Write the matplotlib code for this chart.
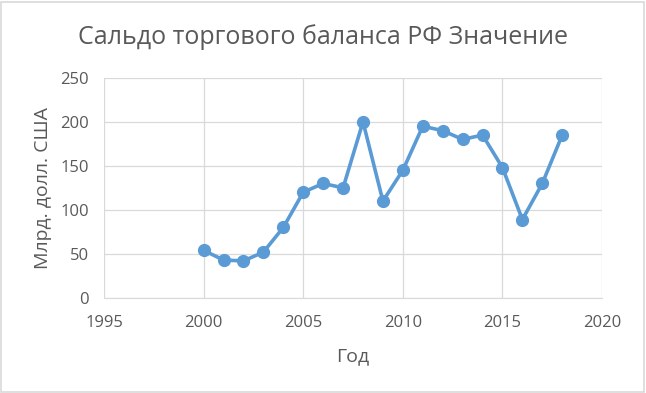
import matplotlib
matplotlib.use("Agg")
import matplotlib.pyplot as plt
from matplotlib.patches import Rectangle

years = [2000, 2001, 2002, 2003, 2004, 2005, 2006, 2007, 2008, 2009,
         2010, 2011, 2012, 2013, 2014, 2015, 2016, 2017, 2018]
balance = [54, 43, 42, 52, 80, 120, 130, 125, 200, 110,
           145, 195, 190, 180, 185, 148, 89, 130, 185]
x_ticks = [1995, 2000, 2005, 2010, 2015, 2020]
y_ticks = [0, 50, 100, 150, 200, 250]

TEXT = "#595959"
LINE = "#5b9bd5"
GRID = "#d9d9d9"

plt.rcParams["font.family"] = ["Open Sans", "DejaVu Sans"]

fig = plt.figure(figsize=(6.46, 3.93), dpi=100)
fig.patches.append(Rectangle((0.002, 0.003), 0.995, 0.993, transform=fig.transFigure,
                             fill=False, edgecolor="#d9d9d9", linewidth=1.2))
ax = fig.add_axes([0.161, 0.242, 0.771, 0.560])

ax.plot(years, balance, color=LINE, linewidth=2.6, marker="o", markersize=8.5,
        markerfacecolor=LINE, markeredgecolor=LINE, zorder=3)

ax.set_xlim(1995, 2020)
ax.set_ylim(0, 250)
ax.set_xticks(x_ticks)
ax.set_yticks(y_ticks)
ax.grid(True, color=GRID, linewidth=0.9)
ax.set_axisbelow(True)
for side in ("top", "right", "left"):
    ax.spines[side].set_visible(False)
ax.spines["bottom"].set_color(GRID)
ax.tick_params(length=0, labelsize=12, colors=TEXT)
ax.tick_params(axis="x", pad=12)
ax.tick_params(axis="y", pad=11)

fig.text(0.5, 0.906, "Сальдо торгового баланса РФ Значение", fontsize=18,
         color=TEXT, ha="center", va="center")
ax.set_xlabel("Год", fontsize=14, color=TEXT, labelpad=12)
ax.set_ylabel("Млрд. долл. США", fontsize=14, color=TEXT, labelpad=6)

fig.savefig("out.png", dpi=100)
